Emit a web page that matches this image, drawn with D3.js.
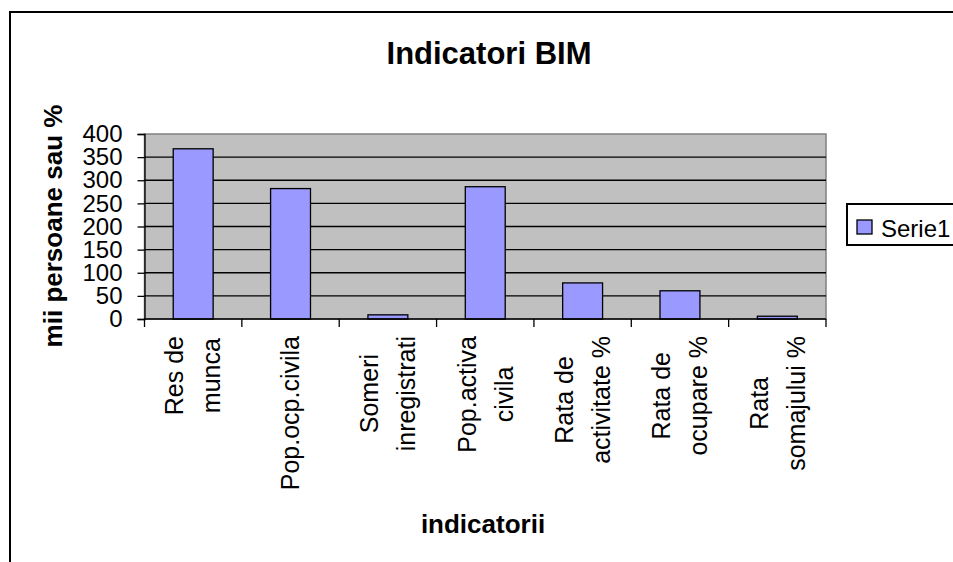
<!DOCTYPE html>
<html>
<head>
<meta charset="utf-8">
<script src="https://cdn.jsdelivr.net/npm/d3@7"></script>
<style>
  body { margin: 0; background: #fff; }
  svg text { font-family: "Liberation Sans", Arial, sans-serif; }
</style>
</head>
<body>
<div id="chart"></div>
<script>
// data
const categories = ['Res de munca', 'Pop.ocp.civila', 'Someri inregistrati', 'Pop.activa civila',
  'Rata de activitate %', 'Rata de ocupare %', 'Rata somajului %'];
const catLines = [['Res de', 'munca'], ['Pop.ocp.civila'], ['Someri', 'inregistrati'], ['Pop.activa', 'civila'],
  ['Rata de', 'activitate %'], ['Rata de', 'ocupare %'], ['Rata', 'somajului %']];
const values = [368, 282, 9, 286, 78, 61, 6];
const yTicks = [0, 50, 100, 150, 200, 250, 300, 350, 400];
const seriesName = 'Serie1';

const W = 953, H = 562;
const plot = { left: 144.5, right: 826, top: 134, bottom: 319 };

const svg = d3.select('#chart')
  .append('svg')
  .attr('width', W)
  .attr('height', H);

// outer chart border
svg.append('rect')
  .attr('x', 10).attr('y', 12)
  .attr('width', 1000).attr('height', 1000)
  .attr('fill', 'none')
  .attr('stroke', '#000')
  .attr('stroke-width', 2);

const xCat = d3.scaleBand().domain(categories).range([plot.left, plot.right]).padding(0);
const x = d3.scaleBand().domain(categories).range([plot.left, plot.right])
  .paddingInner(0.59).paddingOuter(0.295);
const y = d3.scaleLinear().domain([0, 400]).range([plot.bottom, plot.top]);

// plot area
svg.append('rect')
  .attr('x', plot.left).attr('y', plot.top)
  .attr('width', plot.right - plot.left).attr('height', plot.bottom - plot.top)
  .attr('fill', '#c0c0c0')
  .attr('stroke', '#808080')
  .attr('stroke-width', 1.5);

// gridlines
svg.append('g')
  .selectAll('line')
  .data(yTicks.filter(d => d > 0 && d < 400))
  .join('line')
  .attr('x1', plot.left).attr('x2', plot.right)
  .attr('y1', d => y(d)).attr('y2', d => y(d))
  .attr('stroke', '#000')
  .attr('stroke-width', 1.3);

// bars
svg.append('g')
  .selectAll('rect')
  .data(values)
  .join('rect')
  .attr('x', (d, i) => x(categories[i]))
  .attr('y', d => y(d))
  .attr('width', x.bandwidth())
  .attr('height', d => y(0) - y(d))
  .attr('fill', '#9999ff')
  .attr('stroke', '#000')
  .attr('stroke-width', 1.3);

// y axis
const yAxis = svg.append('g')
  .attr('transform', `translate(${plot.left},0)`)
  .call(d3.axisLeft(y).tickValues(yTicks).tickSize(7).tickPadding(15));
yAxis.selectAll('line').attr('stroke', '#000').attr('stroke-width', 1.3);
yAxis.select('.domain').attr('stroke', '#000').attr('stroke-width', 1.3);
yAxis.selectAll('text')
  .attr('fill', '#000')
  .style('font-size', '24px')
  .style('font-family', '"Liberation Sans", Arial, sans-serif');

// x axis line and ticks at category boundaries
svg.append('line')
  .attr('x1', plot.left).attr('x2', plot.right)
  .attr('y1', plot.bottom).attr('y2', plot.bottom)
  .attr('stroke', '#000').attr('stroke-width', 1.5);
const bounds = categories.map(c => xCat(c)).concat([plot.right]);
svg.append('g')
  .selectAll('line')
  .data(bounds)
  .join('line')
  .attr('x1', d => d).attr('x2', d => d)
  .attr('y1', plot.bottom).attr('y2', plot.bottom + 8)
  .attr('stroke', '#000').attr('stroke-width', 1.3);

// category labels, rotated, wrapped lines centered on each other
const lineH = 37;
categories.forEach((c, i) => {
  const lines = catLines[i];
  const g = svg.append('g')
    .attr('transform', `translate(${xCat(c) + xCat.bandwidth() / 2},336) rotate(-90)`);
  const texts = lines.map((t, j) => g.append('text')
    .attr('text-anchor', 'middle')
    .attr('y', (j - (lines.length - 1) / 2) * lineH)
    .attr('dy', '0.35em')
    .style('font-size', '25px')
    .text(t));
  const maxW = d3.max(texts, t => t.node().getComputedTextLength());
  texts.forEach(t => t.attr('x', -maxW / 2));
});

// title
svg.append('text')
  .attr('x', 489).attr('y', 64)
  .attr('text-anchor', 'middle')
  .style('font-size', '31px')
  .style('font-weight', 'bold')
  .text('Indicatori BIM');

// y axis title
svg.append('text')
  .attr('transform', 'translate(62,226) rotate(-90)')
  .attr('text-anchor', 'middle')
  .style('font-size', '26px')
  .style('font-weight', 'bold')
  .text('mii persoane sau %');

// x axis title
svg.append('text')
  .attr('x', 483).attr('y', 533)
  .attr('text-anchor', 'middle')
  .style('font-size', '26px')
  .style('font-weight', 'bold')
  .text('indicatorii');

// legend
const legend = svg.append('g');
legend.append('rect')
  .attr('x', 847).attr('y', 204)
  .attr('width', 200).attr('height', 41)
  .attr('fill', '#fff')
  .attr('stroke', '#000')
  .attr('stroke-width', 2);
legend.append('rect')
  .attr('x', 857).attr('y', 220)
  .attr('width', 15).attr('height', 14)
  .attr('fill', '#9999ff')
  .attr('stroke', '#000')
  .attr('stroke-width', 1.3);
legend.append('text')
  .attr('x', 881).attr('y', 237)
  .style('font-size', '24px')
  .text(seriesName);
</script>
</body>
</html>
